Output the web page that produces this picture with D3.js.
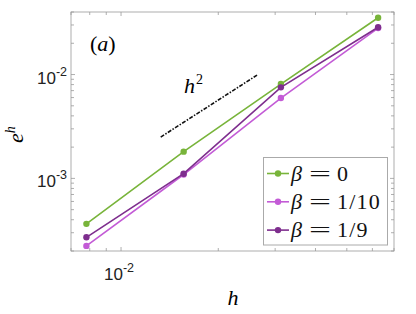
<!DOCTYPE html>
<html>
<head>
<meta charset="utf-8">
<script src="https://cdn.jsdelivr.net/npm/d3@7"></script>
<style>
  body { margin: 0; background: #fff; }
  svg { display: block; }
</style>
</head>
<body>
<div class="main"></div>
<script>
// dados
var hValues   = [1/128, 1/64, 1/32, 1/16];
var errBeta0  = [3.65e-4, 1.81e-3, 8.1e-3, 3.52e-2];
var errBeta10 = [2.24e-4, 1.09e-3, 5.94e-3, 2.8e-2];
var errBeta9  = [2.71e-4, 1.11e-3, 7.53e-3, 2.85e-2];
var seriesNames  = ["0", "1/10", "1/9"];
var seriesColors = ["#78b43a", "#c35bd6", "#7e2e8e"];
var refH = [0.01327, 0.0266];   // linha de referencia h^2
var refC = 14.2;
var xMajor = [0.01], yMajor = [1e-3, 1e-2];

var width = 416, height = 314;
var pLeft = 71, pRight = 394, pTop = 12, pBottom = 251;

var svg = d3.select('.main').append('svg')
    .attr('width', width).attr('height', height);

var x = d3.scaleLog().domain([0.007, 0.07]).range([pLeft, pRight]);
var y = d3.scaleLog().domain([2e-4, 4e-2]).range([pBottom, pTop]);

// ticks menores
var xMinor = [], yMinor = [];
for (var e = -3; e <= -1; e++) for (var m = 1; m < 10; m++) {
    var v = m * Math.pow(10, e);
    if (v >= 0.007 && v <= 0.07) xMinor.push(v);
}
for (var e = -4; e <= -1; e++) for (var m = 1; m < 10; m++) {
    var v = m * Math.pow(10, e);
    if (v >= 2e-4 && v <= 4e-2) yMinor.push(v);
}

var axisColor = '#9a9a9a';
var g = svg.append('g');
function isMajor(list, v) {
    return list.some(function(d) { return Math.abs(d - v) / d < 1e-9; });
}
function tick(x1, y1, x2, y2) {
    g.append('line').attr('x1', x1).attr('y1', y1).attr('x2', x2).attr('y2', y2)
        .attr('stroke', axisColor).attr('stroke-width', 0.8);
}
xMinor.forEach(function(v) {
    var L = isMajor(xMajor, v) ? 4 : 3;
    tick(x(v), pBottom, x(v), pBottom - L);
    tick(x(v), pTop, x(v), pTop + L);
});
yMinor.forEach(function(v) {
    var L = isMajor(yMajor, v) ? 4 : 3;
    tick(pLeft, y(v), pLeft + L, y(v));
    tick(pRight, y(v), pRight - L, y(v));
});

// series
var data = [errBeta0, errBeta10, errBeta9];
var line = d3.line().x(function(d, i) { return x(hValues[i]); }).y(function(d) { return y(d); });
data.forEach(function(s, k) {
    svg.append('path').attr('d', line(s)).attr('fill', 'none')
        .attr('stroke', seriesColors[k]).attr('stroke-width', 1.6);
    svg.selectAll('.pt' + k).data(s).enter().append('circle')
        .attr('cx', function(d, i) { return x(hValues[i]); })
        .attr('cy', function(d) { return y(d); })
        .attr('r', 3.2).attr('fill', seriesColors[k]);
});

// referencia h^2
svg.append('path')
    .attr('d', d3.line().x(function(d) { return x(d); }).y(function(d) { return y(refC * d * d); })(refH))
    .attr('stroke', '#111').attr('stroke-width', 1.6).attr('fill', 'none')
    .attr('stroke-dasharray', '4,1.5,1.5,1.5');
var h2 = svg.append('text').attr('x', 184).attr('y', 93)
    .attr('font-family', 'Liberation Serif, serif').attr('font-size', 22);
h2.append('tspan').attr('font-style', 'italic').text('h');
h2.append('tspan').attr('font-size', 14).attr('dx', 1).attr('dy', -9).text('2');

// caixa dos eixos
svg.append('rect').attr('x', pLeft).attr('y', pTop)
    .attr('width', pRight - pLeft).attr('height', pBottom - pTop)
    .attr('fill', 'none').attr('stroke', axisColor).attr('stroke-width', 0.8);

// rotulos dos ticks
function powLabel(px, py, exp, anchor) {
    var t = svg.append('text').attr('x', px).attr('y', py)
        .attr('font-family', 'Liberation Sans, Arial, sans-serif')
        .attr('font-size', 17).attr('fill', '#222').attr('text-anchor', anchor);
    t.append('tspan').text('10');
    t.append('tspan').attr('font-size', 12.5).attr('dy', -8).text(exp);
}
powLabel(67, y(1e-2) + 9, '-2', 'end');
powLabel(67, y(1e-3) + 9, '-3', 'end');
powLabel(104, 280, '-2', 'start');

// (a)
var a = svg.append('text').attr('x', 90).attr('y', 51)
    .attr('font-family', 'Liberation Serif, serif').attr('font-size', 22);
a.append('tspan').text('(');
a.append('tspan').attr('font-style', 'italic').text('a');
a.append('tspan').text(')');

// titulos dos eixos
svg.append('text').attr('x', 233).attr('y', 305).attr('text-anchor', 'middle')
    .attr('font-family', 'Liberation Serif, serif').attr('font-style', 'italic')
    .attr('font-size', 22).text('h');
var yl = svg.append('text').attr('transform', 'translate(23,143) rotate(-90)')
    .attr('font-family', 'Liberation Serif, serif').attr('font-style', 'italic').attr('font-size', 22);
yl.append('tspan').text('e');
yl.append('tspan').attr('font-size', 14).attr('dy', -8).text('h');

// legenda
var lg = svg.append('g');
lg.append('rect').attr('x', 263.5).attr('y', 157.5).attr('width', 124).attr('height', 87.5)
    .attr('fill', '#fff').attr('stroke', '#aaa').attr('stroke-width', 1);
seriesNames.forEach(function(n, k) {
    var ry = 173.5 + k * 28.3;
    lg.append('line').attr('x1', 267).attr('x2', 289).attr('y1', ry).attr('y2', ry)
        .attr('stroke', seriesColors[k]).attr('stroke-width', 1.6);
    lg.append('circle').attr('cx', 278).attr('cy', ry).attr('r', 3.2).attr('fill', seriesColors[k]);
    var t = lg.append('text').attr('y', ry + 7)
        .attr('font-family', 'Liberation Serif, serif').attr('font-size', 22).attr('fill', '#111');
    t.append('tspan').attr('x', 291).attr('font-style', 'italic').text('β');
    t.append('tspan').attr('x', 309).attr('textLength', 22)
        .attr('lengthAdjust', 'spacingAndGlyphs').text('=');
    t.append('tspan').attr('x', 337).attr('letter-spacing', 1.2).text(n);
});
</script>
</body>
</html>
